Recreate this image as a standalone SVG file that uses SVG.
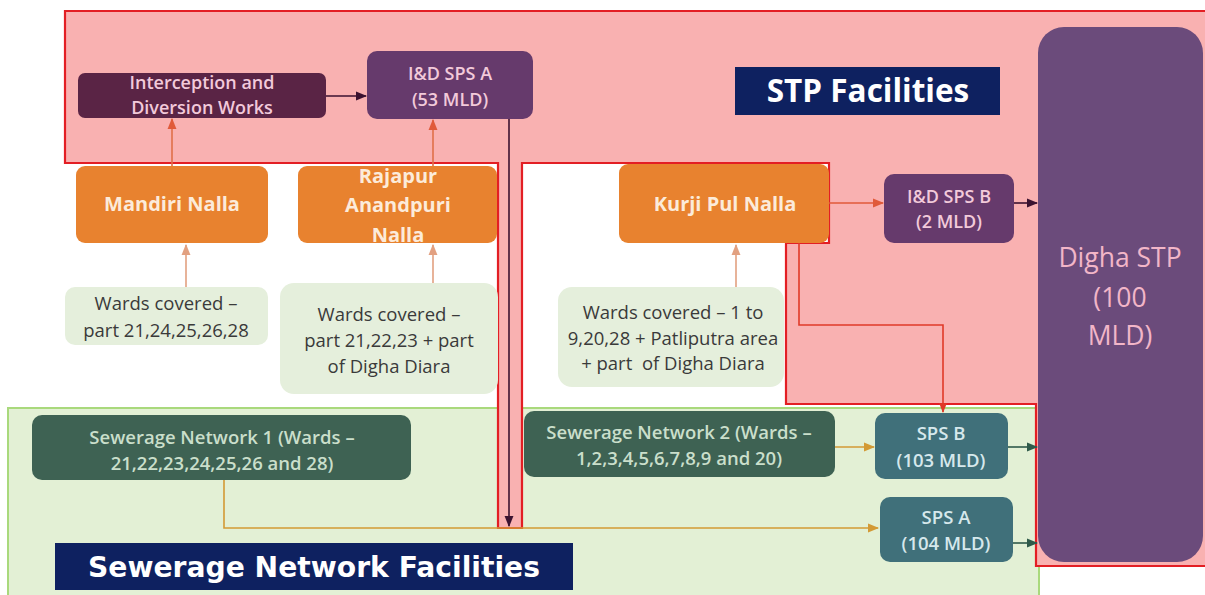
<svg xmlns="http://www.w3.org/2000/svg" width="1205" height="595" viewBox="0 0 1205 595">
  <style>
    .t { font-family: "Open Sans", "Noto Sans", "Liberation Sans", sans-serif; text-anchor: middle; }
    .ward { fill: #E5EFDC; }
    .wardTxt { font-size: 18.5px; fill: #3A3A3A; }
    .nalla { fill: #E8822F; }
    .nallaTxt { font-size: 20px; font-weight: bold; fill: #FCEBDA; }
    .idTxt { font-size: 18px; font-weight: 600; fill: #F2CADA; }
    .sn { fill: #3E6253; }
    .snTxt { font-size: 18.5px; font-weight: 600; fill: #CADFCB; }
    .sps { fill: #40707A; }
    .spsTxt { font-size: 18.5px; font-weight: 600; fill: #D6E8EC; }
    .ln { fill: none; stroke-width: 1.6; }
  </style>
  <defs>
    <marker id="aDark" viewBox="0 0 10 10" refX="9" refY="5" markerWidth="7" markerHeight="7" orient="auto">
      <path d="M0,1 L10,5 L0,9 z" fill="#3B1230"/>
    </marker>
    <marker id="aRed" viewBox="0 0 10 10" refX="9" refY="5" markerWidth="7" markerHeight="7" orient="auto">
      <path d="M0,1 L10,5 L0,9 z" fill="#E05A3A"/>
    </marker>
    <marker id="aTan" viewBox="0 0 10 10" refX="9" refY="5" markerWidth="7" markerHeight="7" orient="auto">
      <path d="M0,1 L10,5 L0,9 z" fill="#E2A080"/>
    </marker>
    <marker id="aGold" viewBox="0 0 10 10" refX="9" refY="5" markerWidth="7" markerHeight="7" orient="auto">
      <path d="M0,1 L10,5 L0,9 z" fill="#D39A35"/>
    </marker>
    <marker id="aGreen" viewBox="0 0 10 10" refX="9" refY="5" markerWidth="7" markerHeight="7" orient="auto">
      <path d="M0,1 L10,5 L0,9 z" fill="#2F5A4A"/>
    </marker>
    <marker id="aRed2" viewBox="0 0 10 10" refX="9" refY="5" markerWidth="6" markerHeight="6" orient="auto">
      <path d="M0,1 L10,5 L0,9 z" fill="#E03A28"/>
    </marker>
  </defs>

  <rect width="1205" height="595" fill="#FFFFFF"/>

  <!-- sewerage network zone -->
  <rect id="zone-sewerage" x="8" y="408" width="1031" height="192" fill="#E3F0D5" stroke="#A9D97C" stroke-width="2"/>

  <!-- STP zone (pink, red outline) -->
  <polygon id="zone-stp" points="65,11 1207,11 1207,566 1036,566 1036,404 786,404 786,243 829,243 829,163 522,163 522,528 498,528 498,163 65,163" fill="#F9B1B1" stroke="#E31E24" stroke-width="2.2"/>

  <!-- zone titles -->
  <g id="title-stp">
    <rect x="735" y="67" width="265" height="48" fill="#0E2160"/>
    <text class="t" x="868" y="102" font-size="31.5" font-weight="bold" fill="#FFFFFF">STP Facilities</text>
  </g>
  <g id="title-sewerage">
    <rect x="55" y="543" width="518" height="47" fill="#0E2160"/>
    <text x="88" y="577" font-family="'DejaVu Sans', Verdana, sans-serif" font-size="28.2" font-weight="bold" fill="#FFFFFF">Sewerage  Network  Facilities</text>
  </g>

  <!-- connectors -->
  <g id="connectors">
    <line class="ln" x1="326" y1="96" x2="366" y2="96" stroke="#3B1230" marker-end="url(#aDark)"/>
    <line class="ln" x1="172" y1="167" x2="172" y2="119" stroke="#E0704A" marker-end="url(#aRed)"/>
    <line class="ln" x1="433" y1="167" x2="433" y2="120" stroke="#E0704A" marker-end="url(#aRed)"/>
    <line class="ln" x1="509" y1="119" x2="509" y2="526" stroke="#3B1230" marker-end="url(#aDark)"/>
    <line class="ln" x1="186" y1="287" x2="186" y2="245" stroke="#E2A080" marker-end="url(#aTan)"/>
    <line class="ln" x1="433" y1="283" x2="433" y2="245" stroke="#E2A080" marker-end="url(#aTan)"/>
    <line class="ln" x1="736" y1="287" x2="736" y2="245" stroke="#E2A080" marker-end="url(#aTan)"/>
    <line class="ln" x1="829" y1="203" x2="883" y2="203" stroke="#E05A3A" marker-end="url(#aRed)"/>
    <line class="ln" x1="1014" y1="203" x2="1037" y2="203" stroke="#3B1230" marker-end="url(#aDark)"/>
    <polyline class="ln" points="799,243 799,325 943,325 943,412" stroke="#E03A28" marker-end="url(#aRed2)"/>
    <line class="ln" x1="835" y1="447" x2="874" y2="447" stroke="#D39A35" marker-end="url(#aGold)"/>
    <polyline class="ln" points="224,480 224,528 878,528" stroke="#D39A35" marker-end="url(#aGold)"/>
    <line class="ln" x1="1008" y1="447" x2="1037" y2="447" stroke="#2F5A4A" marker-end="url(#aGreen)"/>
    <line class="ln" x1="1013" y1="543" x2="1037" y2="543" stroke="#2F5A4A" marker-end="url(#aGreen)"/>
  </g>

  <!-- nodes -->
  <g id="interception">
    <rect x="78" y="73" width="248" height="45" rx="7" fill="#5A2445"/>
    <text class="t idTxt" x="202" y="89">Interception and</text>
    <text class="t idTxt" x="202" y="114">Diversion Works</text>
  </g>
  <g id="id-sps-a">
    <rect x="367" y="51" width="166" height="68" rx="10" fill="#663A6C"/>
    <text class="t idTxt" x="450" y="80">I&amp;D SPS A</text>
    <text class="t idTxt" x="450" y="106">(53 MLD)</text>
  </g>
  <g id="digha-stp">
    <rect x="1038" y="27" width="165" height="535" rx="26" fill="#6B4B7B"/>
    <text class="t" x="1120" y="267" font-size="26.5" fill="#F2B6C8">Digha STP</text>
    <text class="t" x="1120" y="307" font-size="26.5" fill="#F2B6C8">(100</text>
    <text class="t" x="1120" y="345" font-size="26.5" fill="#F2B6C8">MLD)</text>
  </g>
  <g id="mandiri-nalla">
    <rect class="nalla" x="76" y="166" width="192" height="77" rx="9"/>
    <text class="t nallaTxt" x="172" y="211">Mandiri Nalla</text>
  </g>
  <g id="rajapur-nalla">
    <rect class="nalla" x="298" y="166" width="199" height="77" rx="9"/>
    <text class="t nallaTxt" x="398" y="183">Rajapur</text>
    <text class="t nallaTxt" x="398" y="212">Anandpuri</text>
    <text class="t nallaTxt" x="398" y="242">Nalla</text>
  </g>
  <g id="kurji-nalla">
    <rect class="nalla" x="619" y="164" width="210" height="79" rx="9"/>
    <text class="t nallaTxt" x="725" y="211">Kurji Pul Nalla</text>
  </g>
  <g id="id-sps-b">
    <rect x="884" y="174" width="130" height="69" rx="10" fill="#663A6C"/>
    <text class="t idTxt" x="949" y="203">I&amp;D SPS B</text>
    <text class="t idTxt" x="949" y="228">(2 MLD)</text>
  </g>
  <g id="wards-mandiri">
    <rect class="ward" x="65" y="287" width="203" height="58" rx="10"/>
    <text class="t wardTxt" x="166" y="310">Wards covered –</text>
    <text class="t wardTxt" x="166" y="337">part 21,24,25,26,28</text>
  </g>
  <g id="wards-rajapur">
    <rect class="ward" x="280" y="283" width="218" height="111" rx="14"/>
    <text class="t wardTxt" x="389" y="321">Wards covered –</text>
    <text class="t wardTxt" x="389" y="347">part 21,22,23 + part</text>
    <text class="t wardTxt" x="389" y="373">of Digha Diara</text>
  </g>
  <g id="wards-kurji">
    <rect class="ward" x="558" y="287" width="226" height="100" rx="14"/>
    <text class="t wardTxt" x="673" y="319">Wards covered – 1 to</text>
    <text class="t wardTxt" x="673" y="345">9,20,28 + Patliputra area</text>
    <text class="t wardTxt" x="673" y="370" xml:space="preserve">+ part  of Digha Diara</text>
  </g>
  <g id="sewerage-network-1">
    <rect class="sn" x="32" y="415" width="379" height="65" rx="10"/>
    <text class="t snTxt" x="222" y="444">Sewerage Network 1 (Wards –</text>
    <text class="t snTxt" x="222" y="470">21,22,23,24,25,26 and 28)</text>
  </g>
  <g id="sewerage-network-2">
    <rect class="sn" x="524" y="411" width="311" height="66" rx="10"/>
    <text class="t snTxt" x="679" y="439">Sewerage Network 2 (Wards –</text>
    <text class="t snTxt" x="679" y="465">1,2,3,4,5,6,7,8,9 and 20)</text>
  </g>
  <g id="sps-b">
    <rect class="sps" x="875" y="413" width="133" height="66" rx="10"/>
    <text class="t spsTxt" x="941" y="440">SPS B</text>
    <text class="t spsTxt" x="941" y="467">(103 MLD)</text>
  </g>
  <g id="sps-a">
    <rect class="sps" x="880" y="497" width="133" height="65" rx="10"/>
    <text class="t spsTxt" x="946" y="524">SPS A</text>
    <text class="t spsTxt" x="946" y="550">(104 MLD)</text>
  </g>
</svg>
